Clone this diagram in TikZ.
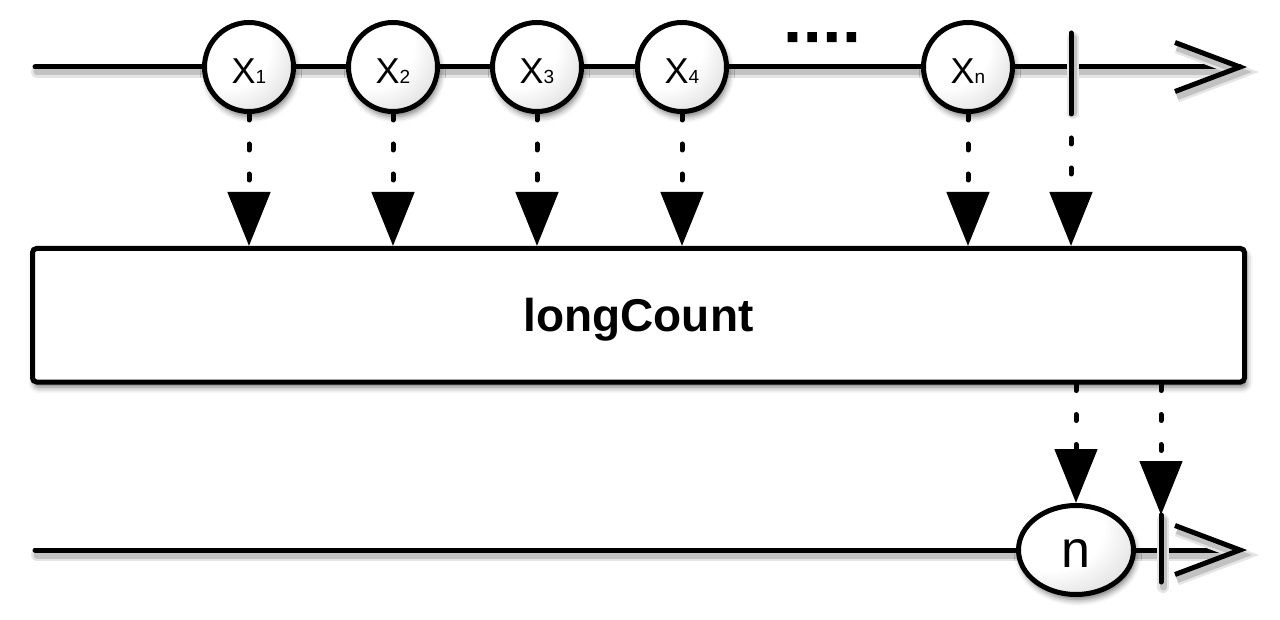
\documentclass[tikz,border=0pt]{standalone}
\usepackage{fontspec}
\setmainfont{Liberation Sans}
\newfontface\dotface[FakeBold=10]{Liberation Sans Bold}
\usetikzlibrary{arrows.meta,shapes.geometric,shadows.blur}
\pgfdeclareradialshading{marbleshade}{\pgfpoint{-18bp}{18bp}}{color(0bp)=(white); color(24bp)=(white); color(50bp)=(black!22); color(72bp)=(black!55)}
\newcommand\marbletext[1]{{\fontsize{36pt}{36pt}\selectfont X}{\fontsize{19pt}{19pt}\selectfont #1}}
\newcommand\shadowline[2][]{%
  \draw[lsha,#1] #2;
  \draw[lshb,#1] #2;
  \draw[mainline,#1] #2;}
\begin{document}
\begin{tikzpicture}[x=1pt,y=-1pt]
\tikzset{
  mainline/.style={line width=5pt,line cap=round,draw=black},
  lsha/.style={line width=12pt,line cap=round,draw=black!10,transform canvas={xshift=2pt,yshift=-5pt}},
  lshb/.style={line width=7pt,line cap=round,draw=black!24,transform canvas={xshift=2pt,yshift=-5pt}},
  softshadow/.style={blur shadow={shadow xshift=2pt,shadow yshift=-5pt,shadow blur radius=6pt,shadow opacity=55}},
  marble/.style={circle,draw,line width=5pt,minimum size=89pt,inner sep=0pt,
    shade,shading=marbleshade,softshadow,text height=34pt,text depth=0pt},
  result/.style={ellipse,draw,line width=5pt,minimum width=115pt,minimum height=89pt,inner sep=0pt,
    shade,shading=marbleshade,softshadow,text height=34pt,text depth=0pt,font=\fontsize{52pt}{52pt}\selectfont},
  opbox/.style={rectangle,draw,line width=5pt,fill=white,rounded corners=4pt,
    minimum width=1212pt,minimum height=133.5pt,inner sep=0pt,softshadow,
    text height=33.5pt,text depth=0pt,font=\bfseries\fontsize{46pt}{46pt}\selectfont},
  dotarrow/.style={line width=5pt,line cap=round,dash pattern=on 6pt off 24pt,
    -{Triangle[width=42pt,length=54pt]}},
}
\useasboundingbox (0,0) rectangle (1280,620);

% top timeline
\coordinate (ts) at (35,67);
\coordinate (te) at (1240,67);
\coordinate (tw1) at (1175,42.5);
\coordinate (tw2) at (1175,91.5);
\shadowline{(ts) -- (te)}
\shadowline[line join=miter,line cap=butt]{(tw1) -- (te) -- (tw2)}
\coordinate (t1a) at (1071,33);
\coordinate (t1b) at (1071,108);
\shadowline{(t1a) -- (t1b)}

% marbles
\node[marble] (m1) at (249,67) {\marbletext{1}};
\node[marble] (m2) at (393,67) {\marbletext{2}};
\node[marble] (m3) at (537,67) {\marbletext{3}};
\node[marble] (m4) at (682,67) {\marbletext{4}};
\node[marble] (mn) at (968,67) {\marbletext{n}};
\node[anchor=base,inner sep=0pt,text height=8pt,text depth=0pt,font=\dotface\fontsize{40pt}{40pt}\selectfont] (dots) at (822,40) {.\kern8.5pt.\kern8.5pt.\kern8.5pt.};

% operator box
\node[opbox] (box) at (638.5,315.25) {longCount};

% bottom timeline
\coordinate (bs) at (35,550);
\coordinate (be) at (1240,550);
\coordinate (bw1) at (1175,525.5);
\coordinate (bw2) at (1175,574.5);
\shadowline{(bs) -- (be)}
\shadowline[line join=miter,line cap=butt]{(bw1) -- (be) -- (bw2)}
\coordinate (t2a) at (1161,515);
\coordinate (t2b) at (1161,582);
\shadowline{(t2a) -- (t2b)}
\node[result] (n) at (1076,550) {n};

% dotted arrows
\foreach \m in {m1,m2,m3,m4,mn}{
  \draw[dotarrow] (\m.south) -- (\m.south |- box.north);
}
\draw[dotarrow] (t1b) -- (t1b |- box.north);
\draw[dotarrow] (box.south -| n.north) -- (n.north);
\draw[dotarrow] (box.south -| t2a) -- (t2a);
\end{tikzpicture}
\end{document}
